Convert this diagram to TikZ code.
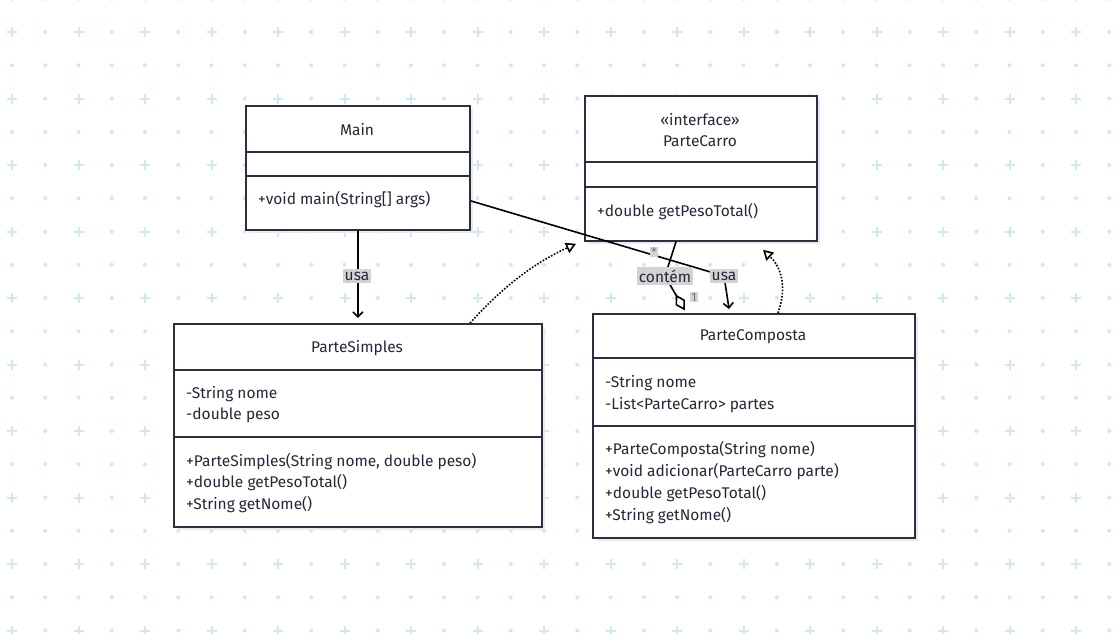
\documentclass[tikz,border=0pt]{standalone}
\usepackage{fontspec}
\setmainfont{Fira Sans}
\usetikzlibrary{arrows.meta,calc,shadows}
\definecolor{gridc}{HTML}{CFE9EE}
\definecolor{boxc}{HTML}{2D2D44}
\definecolor{txtc}{HTML}{26263A}
\definecolor{lblbg}{HTML}{D3D3D3}
\definecolor{shad}{HTML}{EAEAEA}
\tikzset{
  classbox/.style={draw=boxc, line width=1.8pt, fill=white, inner sep=0pt, anchor=north west,
    drop shadow={shadow xshift=3pt, shadow yshift=-3pt, fill=shad, opacity=1}},
  divline/.style={draw=boxc, line width=1.8pt},
  ctext/.style={text=txtc, font=\fontsize{15.5}{18}\selectfont, inner sep=0pt},
  mtext/.style={ctext, anchor=west},
  lbl/.style={fill=lblbg, text=txtc, font=\fontsize{15.5}{18}\selectfont, inner xsep=1.5pt, inner ysep=3pt},
  mult/.style={fill=lblbg, text=black!55, font=\fontsize{12}{13}\selectfont, inner sep=1pt},
  conn/.style={line width=1.6pt, draw=black},
  usearr/.style={conn, -{Straight Barb[length=5pt,width=10pt,line width=1.6pt]}},
  diam/.style={conn, fill=white, line join=miter},
  real/.style={conn, dash pattern=on 1.6pt off 1.6pt, -{Triangle[open,length=10pt,width=11pt,line width=1.6pt]}},
}
\begin{document}
\begin{tikzpicture}[x=1pt,y=-1pt]
\useasboundingbox (0,0) rectangle (1117,633);
\fill[white] (0,0) rectangle (1117,633);
% background grid: dots everywhere, pluses on every second point
\foreach \i in {0,...,33}{\foreach \j in {-1,...,18}{
  \fill[gridc] ({12+33.25*\i},{32+33.25*\j}) circle (2);
}}
\foreach \i in {0,...,16}{\foreach \j in {0,...,9}{
  \fill[white] ({12+66.5*\i},{32+66.5*\j}) circle (2.5);
  \draw[gridc,line width=2pt] ({12+66.5*\i-5},{32+66.5*\j}) -- ({12+66.5*\i+5},{32+66.5*\j})
        ({12+66.5*\i},{32+66.5*\j-5}) -- ({12+66.5*\i},{32+66.5*\j+5});
}}

% classes
\node[classbox, minimum width=224pt, minimum height=124pt] (main) at (245,105) {};
\draw[divline] ($(main.north west)+(0,47)$) -- ($(main.north east)+(0,47)$);
\draw[divline] ($(main.north west)+(0,71)$) -- ($(main.north east)+(0,71)$);
\node[ctext] (mainT) at (357,130) {Main};
\node[mtext] (mainM1) at (258,200) {+void main(String[] args)};

\node[classbox, minimum width=232pt, minimum height=145pt] (pcar) at (584,95) {};
\draw[divline] ($(pcar.north west)+(0,67)$) -- ($(pcar.north east)+(0,67)$);
\draw[divline] ($(pcar.north west)+(0,92)$) -- ($(pcar.north east)+(0,92)$);
\node[ctext] (pcarS) at (700,120) {«interface»};
\node[ctext] (pcarT) at (700,141) {ParteCarro};
\node[mtext] (pcarM1) at (597,212) {+double getPesoTotal()};

\node[classbox, minimum width=368pt, minimum height=203pt] (ps) at (173,323) {};
\draw[divline] ($(ps.north west)+(0,47)$) -- ($(ps.north east)+(0,47)$);
\draw[divline] ($(ps.north west)+(0,114)$) -- ($(ps.north east)+(0,114)$);
\node[ctext] (psT) at (357,348) {ParteSimples};
\node[mtext] (psA1) at (186,394) {-String nome};
\node[mtext] (psA2) at (186,415) {-double peso};
\node[mtext] (psM1) at (186,462) {+ParteSimples(String nome, double peso)};
\node[mtext] (psM2) at (186,483) {+double getPesoTotal()};
\node[mtext] (psM3) at (186,505) {+String getNome()};

\node[classbox, minimum width=322pt, minimum height=224pt] (pc) at (592,313) {};
\draw[divline] ($(pc.north west)+(0,45)$) -- ($(pc.north east)+(0,45)$);
\draw[divline] ($(pc.north west)+(0,113)$) -- ($(pc.north east)+(0,113)$);
\node[ctext] (pcT) at (753,337) {ParteComposta};
\node[mtext] (pcA1) at (605,383) {-String nome};
\node[mtext] (pcA2) at (605,405) {-List<ParteCarro> partes};
\node[mtext] (pcM1) at (605,450) {+ParteComposta(String nome)};
\node[mtext] (pcM2) at (605,472) {+void adicionar(ParteCarro parte)};
\node[mtext] (pcM3) at (605,494) {+double getPesoTotal()};
\node[mtext] (pcM4) at (605,516) {+String getNome()};

% connectors
\draw[usearr] (main.south) -- ([yshift=5pt]ps.north);
\node[lbl] (lblUsa1) at (357,276) {usa};

\coordinate (uStart) at ([yshift=-33pt]main.east);
\coordinate (uLab) at (724,276);
\coordinate (uEnd) at ($(pc.north west)+(137,-4)$);
\draw[conn] (uStart) -- (uLab);
\draw[usearr] (uLab) .. controls (727,292) .. (uEnd);
\node[lbl] (lblUsa2) at (uLab) {usa};

\coordinate (cStart) at ($(pcar.south west)+(92,0)$);
\coordinate (cLab) at (665,276);
\coordinate (cEnd) at ($(pc.north west)+(92,-4)$);
\coordinate (cBack) at ($(cEnd)!15pt!(cLab)$);
\coordinate (cMid) at ($(cEnd)!7.5pt!(cLab)$);
\coordinate (cS1) at ($(cMid)!4.5pt!90:(cEnd)$);
\coordinate (cS2) at ($(cMid)!4.5pt!-90:(cEnd)$);
\draw[conn] (cStart) -- (cLab) -- (cBack);
\draw[diam] (cEnd) -- (cS1) -- (cBack) -- (cS2) -- cycle;
\node[lbl] (lblCont) at (cLab) {contém};
\node[mult] (mStar) at (654,252) {*};
\node[mult] (mOne) at (694,297) {1};

\coordinate (r1Start) at ($(ps.north west)+(297,0)$);
\coordinate (r1End) at ($(pcar.south west)+(-8,2)$);
\draw[real] (r1Start) .. controls (500,290) and (530,265) .. (r1End);

\coordinate (r2Start) at ($(pc.north west)+(186,0)$);
\coordinate (r2End) at ($(pcar.south west)+(179,8)$);
\draw[real] (r2Start) .. controls (788,285) and (780,266) .. (r2End);
\end{tikzpicture}
\end{document}
